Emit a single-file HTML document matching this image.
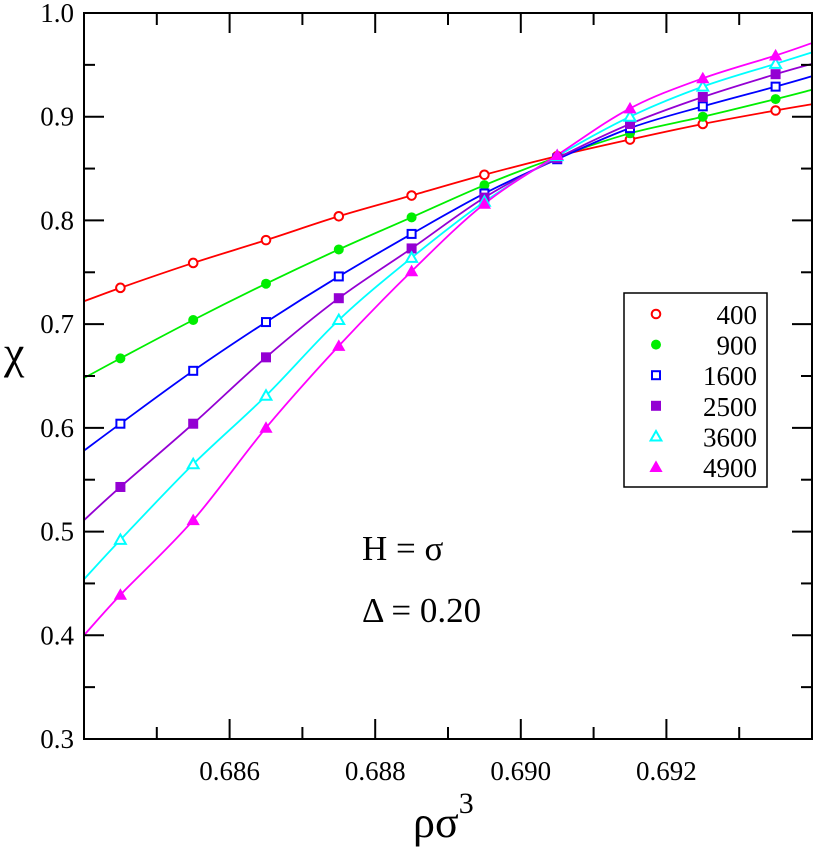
<!DOCTYPE html>
<html><head><meta charset="utf-8"><style>
body{margin:0;background:#fff;}
svg{display:block;}
svg text{font-family:"Liberation Serif","Times New Roman",Times,"DejaVu Serif",serif;}
</style></head><body>
<svg id="chart" width="817" height="847" viewBox="0 0 817 847" xmlns="http://www.w3.org/2000/svg">
<g id="marks"></g>
<rect x="84" y="13" width="728" height="726" fill="none" stroke="#000" stroke-width="2"/>
<g id="axes"></g>
<text x="4" y="368" font-size="46">χ</text>
<text x="413" y="837" font-size="44">ρσ<tspan font-size="30" dy="-24">3</tspan></text>
<text x="362" y="560" font-size="35">H = σ</text>
<text x="362" y="622" font-size="35">Δ = 0.20</text>
<g id="legend">
<rect x="624" y="293" width="143" height="194" fill="#fff" stroke="#000" stroke-width="1.5"/>
</g>
</svg>
<script>
const xs = [0.6845,0.6855,0.6865,0.6875,0.6885,0.6895,0.6905,0.6915,0.6925,0.6935];
const labels = ["400","900","1600","2500","3600","4900"];
const colors = ["#ff0000","#00ee00","#0000ff","#9400d3","#00ffff","#ff00ff"];
const markers = ["circle-open","circle","square-open","square","triangle-open","triangle"];
const s400 = [0.735,0.759,0.781,0.804,0.824,0.844,0.862,0.878,0.893,0.906];
const s900 = [0.667,0.704,0.739,0.772,0.803,0.834,0.861,0.884,0.900,0.917];
const s1600 = [0.604,0.655,0.702,0.746,0.787,0.826,0.859,0.889,0.910,0.929];
const s2500 = [0.543,0.604,0.668,0.725,0.773,0.822,0.860,0.893,0.919,0.941];
const s3600 = [0.492,0.565,0.631,0.704,0.764,0.818,0.862,0.900,0.929,0.951];
const s4900 = [0.439,0.511,0.600,0.679,0.751,0.816,0.863,0.908,0.937,0.959];
const series = [s400,s900,s1600,s2500,s3600,s4900];
const fitLeft = [0.722,0.648,0.578,0.511,0.454,0.400];
const fitRight = [0.912,0.926,0.939,0.951,0.962,0.971];
const xTicks = [0.686,0.688,0.690,0.692];
const xTickLabels = ["0.686","0.688","0.690","0.692"];
const yTicks = [0.3,0.4,0.5,0.6,0.7,0.8,0.9,1.0];
const yTickLabels = ["0.3","0.4","0.5","0.6","0.7","0.8","0.9","1.0"];
const X0=0.684,X1=0.694,Y0=0.3,Y1=1.0;
const PL=84,PR=812,PT=13,PB=739;
function xp(v){return PL+(v-X0)/(X1-X0)*(PR-PL);}
function yp(v){return PB-(v-Y0)/(Y1-Y0)*(PB-PT);}
const NS="http://www.w3.org/2000/svg";
function mk(tag,attrs,parent){const e=document.createElementNS(NS,tag);for(const k in attrs)e.setAttribute(k,attrs[k]);parent.appendChild(e);return e;}
const axes=document.getElementById('axes'),marks=document.getElementById('marks'),legend=document.getElementById('legend');
for(let v=0.685;v<0.6940;v+=0.001){
  const x=xp(v);const major=xTicks.some(t=>Math.abs(t-v)<1e-6);const L=major?20:12;
  const t=mk('line',{x1:x,x2:x,y1:PB,y2:PB-L,stroke:'#000','stroke-width':2},axes);
  
  
  const t2=mk('line',{x1:x,x2:x,y1:PT,y2:PT+L,stroke:'#000','stroke-width':2},axes);
  
  
}
xTicks.forEach((v,i)=>{
  const t=mk('text',{x:xp(v),y:780,'font-size':27,'text-anchor':'middle'},axes);t.textContent=xTickLabels[i];
  
  
});
for(let v=0.35;v<1.0;v+=0.05){
  const y=yp(v);const major=Math.abs(v*10-Math.round(v*10))<1e-6;const L=major?20:11;
  const t=mk('line',{x1:PL,x2:PL+L,y1:y,y2:y,stroke:'#000','stroke-width':2},axes);
  
  
  const t2=mk('line',{x1:PR,x2:PR-L,y1:y,y2:y,stroke:'#000','stroke-width':2},axes);
  
  
}
yTicks.forEach((v,i)=>{
  const t=mk('text',{x:74,y:yp(v)+9,'font-size':27,'text-anchor':'end'},axes);t.textContent=yTickLabels[i];
  
  
});
function drawMarker(type,cx,cy,col,parent){
  let e;
  if(type.startsWith('circle')){e=mk('circle',{cx:cx,cy:cy,r:type.endsWith('open')?4.3:5},parent);}
  else if(type.startsWith('square')){const s=type.endsWith('open')?8:10;e=mk('rect',{x:cx-s/2,y:cy-s/2,width:s,height:s},parent);}
  else {const h=type.endsWith('open')?9:11;e=mk('polygon',{points:`${cx},${cy-h*0.6} ${cx-h*0.6},${cy+h*0.45} ${cx+h*0.6},${cy+h*0.45}`},parent);}
  if(type.endsWith('open')){e.setAttribute('fill','#fff');e.setAttribute('stroke',col);e.setAttribute('stroke-width',2);}
  else e.setAttribute('fill',col);
  return e;
}
series.forEach((s,i)=>{
  const pts=[[xp(X0),yp(fitLeft[i])]].concat(s.map((v,j)=>[xp(xs[j]),yp(v)])).concat([[xp(X1),yp(fitRight[i])]]);
  let d=`M${pts[0][0]},${pts[0][1]}`;
  for(let k=0;k<pts.length-1;k++){
    const p0=pts[Math.max(0,k-1)],p1=pts[k],p2=pts[k+1],p3=pts[Math.min(pts.length-1,k+2)];
    const c1=[p1[0]+(p2[0]-p0[0])/6,p1[1]+(p2[1]-p0[1])/6],c2=[p2[0]-(p3[0]-p1[0])/6,p2[1]-(p3[1]-p1[1])/6];
    d+=` C${c1[0]},${c1[1]} ${c2[0]},${c2[1]} ${p2[0]},${p2[1]}`;
  }
  const path=mk('path',{d:d,fill:'none',stroke:colors[i],'stroke-width':1.8},marks);
  
  
});
series.forEach((s,i)=>{
  s.forEach((v,j)=>{
    const m=drawMarker(markers[i],xp(xs[j]),yp(v),colors[i],marks);
    
    
  });
});
labels.forEach((l,i)=>{
  const y=314+i*30.6;
  const m=drawMarker(markers[i],656,y,colors[i],legend);
  
  
  const t=mk('text',{x:757,y:y+10,'font-size':27,'text-anchor':'end'},legend);t.textContent=l;
  
  
});
</script>
</body></html>
